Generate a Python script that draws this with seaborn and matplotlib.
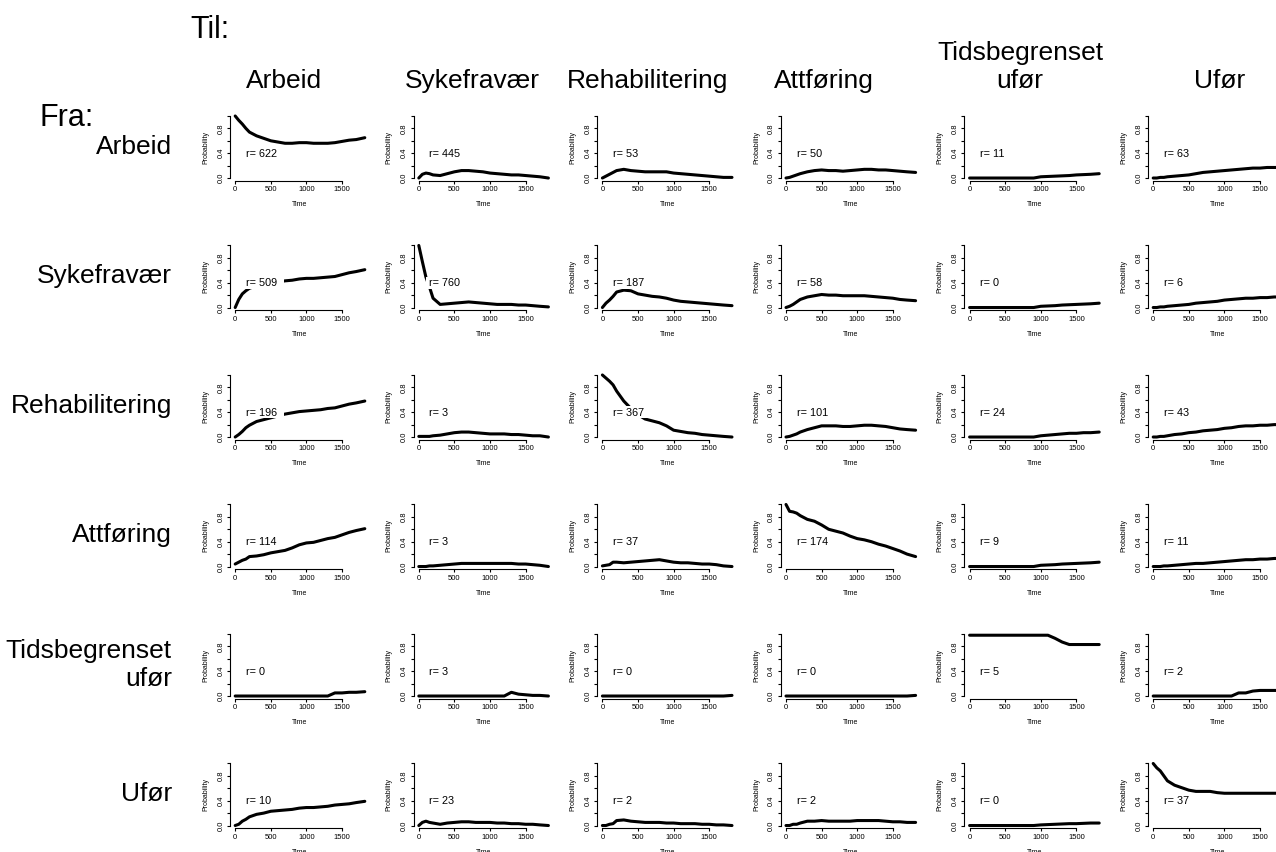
import matplotlib
matplotlib.use("Agg")
import matplotlib.pyplot as plt
import pandas as pd
import seaborn as sns
from matplotlib.patches import Rectangle

# ---------------- data ----------------
STATES = ["Arbeid", "Sykefravær", "Rehabilitering", "Attføring",
          "Tidsbegrenset\nufør", "Ufør"]
TIME = [0, 50, 100, 150, 200, 300, 400, 500, 600, 700, 800, 900, 1000,
        1100, 1200, 1300, 1400, 1500, 1600, 1700, 1820]

R_ARBEID = [622, 445, 53, 50, 11, 63]
R_SYKEFRAVAER = [509, 760, 187, 58, 0, 6]
R_REHAB = [196, 3, 367, 101, 24, 43]
R_ATTFORING = [114, 3, 37, 174, 9, 11]
R_TIDSUFOR = [0, 3, 0, 0, 5, 2]
R_UFOR = [10, 23, 2, 2, 0, 37]

P_ARBEID = [
    [1.0, 0.93, 0.87, 0.80, 0.74, 0.68, 0.64, 0.60, 0.58, 0.56, 0.56, 0.57, 0.57, 0.56, 0.56, 0.56, 0.57, 0.59, 0.61, 0.62, 0.65],
    [0.0, 0.06, 0.08, 0.07, 0.05, 0.04, 0.07, 0.10, 0.12, 0.12, 0.11, 0.10, 0.08, 0.07, 0.06, 0.05, 0.05, 0.04, 0.03, 0.02, 0.0],
    [0.0, 0.03, 0.06, 0.09, 0.12, 0.14, 0.12, 0.11, 0.10, 0.10, 0.10, 0.10, 0.08, 0.07, 0.06, 0.05, 0.04, 0.03, 0.02, 0.01, 0.01],
    [0.0, 0.01, 0.03, 0.05, 0.07, 0.10, 0.12, 0.13, 0.12, 0.12, 0.11, 0.12, 0.13, 0.14, 0.14, 0.13, 0.13, 0.12, 0.11, 0.10, 0.09],
    [0.0, 0.0, 0.0, 0.0, 0.0, 0.0, 0.0, 0.0, 0.0, 0.0, 0.0, 0.0, 0.02, 0.025, 0.03, 0.035, 0.04, 0.05, 0.055, 0.06, 0.07],
    [0.0, 0.0, 0.01, 0.01, 0.02, 0.03, 0.04, 0.05, 0.07, 0.09, 0.10, 0.11, 0.12, 0.13, 0.14, 0.15, 0.16, 0.16, 0.17, 0.17, 0.17],
]
P_SYKEFRAVAER = [
    [0.0, 0.13, 0.22, 0.27, 0.31, 0.35, 0.37, 0.39, 0.41, 0.43, 0.44, 0.46, 0.47, 0.47, 0.48, 0.49, 0.50, 0.53, 0.56, 0.58, 0.61],
    [1.0, 0.74, 0.49, 0.33, 0.15, 0.05, 0.06, 0.07, 0.08, 0.09, 0.08, 0.07, 0.06, 0.05, 0.05, 0.05, 0.04, 0.04, 0.03, 0.02, 0.01],
    [0.0, 0.07, 0.12, 0.18, 0.25, 0.28, 0.27, 0.22, 0.20, 0.18, 0.17, 0.15, 0.12, 0.10, 0.09, 0.08, 0.07, 0.06, 0.05, 0.04, 0.03],
    [0.0, 0.02, 0.05, 0.09, 0.13, 0.17, 0.19, 0.21, 0.20, 0.20, 0.19, 0.19, 0.19, 0.19, 0.18, 0.17, 0.16, 0.15, 0.13, 0.12, 0.11],
    [0.0, 0.0, 0.0, 0.0, 0.0, 0.0, 0.0, 0.0, 0.0, 0.0, 0.0, 0.0, 0.02, 0.025, 0.03, 0.04, 0.045, 0.05, 0.055, 0.06, 0.07],
    [0.0, 0.0, 0.01, 0.01, 0.02, 0.03, 0.04, 0.05, 0.07, 0.08, 0.09, 0.10, 0.12, 0.13, 0.14, 0.15, 0.15, 0.16, 0.16, 0.17, 0.17],
]
P_REHAB = [
    [0.0, 0.04, 0.09, 0.15, 0.19, 0.25, 0.28, 0.31, 0.34, 0.37, 0.39, 0.41, 0.42, 0.43, 0.44, 0.46, 0.47, 0.50, 0.53, 0.55, 0.58],
    [0.01, 0.01, 0.01, 0.01, 0.02, 0.03, 0.05, 0.07, 0.08, 0.08, 0.07, 0.06, 0.05, 0.05, 0.05, 0.04, 0.04, 0.03, 0.02, 0.02, 0.0],
    [1.0, 0.95, 0.90, 0.84, 0.74, 0.58, 0.46, 0.36, 0.29, 0.26, 0.23, 0.18, 0.11, 0.09, 0.07, 0.06, 0.04, 0.03, 0.02, 0.01, 0.0],
    [0.0, 0.01, 0.03, 0.05, 0.08, 0.12, 0.15, 0.18, 0.18, 0.18, 0.17, 0.17, 0.18, 0.19, 0.19, 0.18, 0.17, 0.15, 0.13, 0.12, 0.11],
    [0.0, 0.0, 0.0, 0.0, 0.0, 0.0, 0.0, 0.0, 0.0, 0.0, 0.0, 0.0, 0.02, 0.03, 0.04, 0.05, 0.06, 0.06, 0.07, 0.07, 0.08],
    [0.0, 0.0, 0.01, 0.01, 0.02, 0.04, 0.05, 0.07, 0.08, 0.10, 0.11, 0.12, 0.14, 0.15, 0.17, 0.18, 0.18, 0.19, 0.19, 0.20, 0.20],
]
P_ATTFORING = [
    [0.04, 0.07, 0.10, 0.12, 0.16, 0.17, 0.19, 0.22, 0.24, 0.26, 0.30, 0.35, 0.38, 0.39, 0.42, 0.45, 0.47, 0.51, 0.55, 0.58, 0.61],
    [0.0, 0.0, 0.0, 0.01, 0.01, 0.02, 0.03, 0.04, 0.05, 0.05, 0.05, 0.05, 0.05, 0.05, 0.05, 0.05, 0.04, 0.04, 0.03, 0.02, 0.0],
    [0.01, 0.02, 0.03, 0.07, 0.07, 0.06, 0.07, 0.08, 0.09, 0.10, 0.11, 0.09, 0.07, 0.06, 0.06, 0.05, 0.04, 0.04, 0.03, 0.01, 0.0],
    [1.0, 0.89, 0.88, 0.86, 0.82, 0.76, 0.73, 0.67, 0.60, 0.57, 0.54, 0.49, 0.45, 0.43, 0.40, 0.36, 0.33, 0.29, 0.25, 0.20, 0.16],
    [0.0, 0.0, 0.0, 0.0, 0.0, 0.0, 0.0, 0.0, 0.0, 0.0, 0.0, 0.0, 0.02, 0.025, 0.03, 0.04, 0.045, 0.05, 0.055, 0.06, 0.07],
    [0.0, 0.0, 0.0, 0.01, 0.01, 0.02, 0.03, 0.04, 0.05, 0.05, 0.06, 0.07, 0.08, 0.09, 0.10, 0.11, 0.11, 0.12, 0.12, 0.13, 0.13],
]
P_TIDSUFOR = [
    [0.0, 0.0, 0.0, 0.0, 0.0, 0.0, 0.0, 0.0, 0.0, 0.0, 0.0, 0.0, 0.0, 0.0, 0.0, 0.0, 0.05, 0.05, 0.06, 0.06, 0.07],
    [0.0, 0.0, 0.0, 0.0, 0.0, 0.0, 0.0, 0.0, 0.0, 0.0, 0.0, 0.0, 0.0, 0.0, 0.0, 0.06, 0.03, 0.02, 0.01, 0.01, 0.0],
    [0.0, 0.0, 0.0, 0.0, 0.0, 0.0, 0.0, 0.0, 0.0, 0.0, 0.0, 0.0, 0.0, 0.0, 0.0, 0.0, 0.0, 0.0, 0.0, 0.0, 0.01],
    [0.0, 0.0, 0.0, 0.0, 0.0, 0.0, 0.0, 0.0, 0.0, 0.0, 0.0, 0.0, 0.0, 0.0, 0.0, 0.0, 0.0, 0.0, 0.0, 0.0, 0.01],
    [0.98, 0.98, 0.98, 0.98, 0.98, 0.98, 0.98, 0.98, 0.98, 0.98, 0.98, 0.98, 0.98, 0.98, 0.93, 0.87, 0.83, 0.83, 0.83, 0.83, 0.83],
    [0.0, 0.0, 0.0, 0.0, 0.0, 0.0, 0.0, 0.0, 0.0, 0.0, 0.0, 0.0, 0.0, 0.0, 0.05, 0.05, 0.08, 0.09, 0.09, 0.09, 0.09],
]
P_UFOR = [
    [0.0, 0.02, 0.07, 0.10, 0.14, 0.18, 0.20, 0.23, 0.24, 0.25, 0.26, 0.28, 0.29, 0.29, 0.30, 0.31, 0.33, 0.34, 0.35, 0.37, 0.39],
    [0.0, 0.05, 0.07, 0.05, 0.04, 0.02, 0.04, 0.05, 0.06, 0.06, 0.05, 0.05, 0.05, 0.04, 0.04, 0.03, 0.03, 0.02, 0.02, 0.01, 0.0],
    [0.0, 0.0, 0.02, 0.03, 0.08, 0.09, 0.07, 0.06, 0.05, 0.05, 0.05, 0.04, 0.04, 0.03, 0.03, 0.03, 0.02, 0.02, 0.01, 0.01, 0.0],
    [0.0, 0.0, 0.02, 0.02, 0.04, 0.07, 0.07, 0.08, 0.07, 0.07, 0.07, 0.07, 0.08, 0.08, 0.08, 0.08, 0.07, 0.06, 0.06, 0.05, 0.05],
    [0.0, 0.0, 0.0, 0.0, 0.0, 0.0, 0.0, 0.0, 0.0, 0.0, 0.0, 0.0, 0.01, 0.015, 0.02, 0.025, 0.03, 0.03, 0.035, 0.04, 0.04],
    [1.0, 0.93, 0.88, 0.80, 0.72, 0.65, 0.61, 0.57, 0.55, 0.55, 0.55, 0.53, 0.52, 0.52, 0.52, 0.52, 0.52, 0.52, 0.52, 0.52, 0.52],
]

PROBS = [P_ARBEID, P_SYKEFRAVAER, P_REHAB, P_ATTFORING, P_TIDSUFOR, P_UFOR]
RVALS = [R_ARBEID, R_SYKEFRAVAER, R_REHAB, R_ATTFORING, R_TIDSUFOR, R_UFOR]

X_TICKS = [0, 500, 1000, 1500]
Y_TICKS = [0.0, 0.2, 0.4, 0.6, 0.8, 1.0]
Y_TICKLABELS = ["0.0", "", "0.4", "", "0.8", ""]

# ---------------- style ----------------
sns.set_theme(style="white", rc={
    "axes.edgecolor": "black",
    "axes.linewidth": 0.8,
    "axes.labelcolor": "black",
    "text.color": "black",
    "xtick.color": "black",
    "ytick.color": "black",
    "xtick.bottom": True,
    "ytick.left": True,
})
plt.rcParams["font.family"] = ["Liberation Sans", "DejaVu Sans"]

W, H = 1276, 852
fig = plt.figure(figsize=(W / 100, H / 100), dpi=100)
fig.patch.set_facecolor("white")

X0, DX, AXW = 230, 183.6, 140
Y0, DY, AXH = 113.5, 129.5, 67

for i in range(6):
    for j in range(6):
        left = (X0 + DX * j) / W
        bottom = 1 - (Y0 + DY * i + AXH) / H
        ax = fig.add_axes([left, bottom, AXW / W, AXH / H])
        df = pd.DataFrame({"Time": TIME, "Probability": PROBS[i][j]})
        sns.lineplot(data=df, x="Time", y="Probability", ax=ax,
                     color="black", linewidth=2.2, zorder=2)
        ax.set_xlim(-73, 1893)
        ax.set_ylim(-0.04, 1.04)
        for s in ["top", "right"]:
            ax.spines[s].set_visible(False)
        ax.spines["left"].set_bounds(0, 1)
        ax.spines["bottom"].set_bounds(0, 1500)
        ax.set_xticks(X_TICKS)
        ax.set_xticklabels([str(t) for t in X_TICKS])
        ax.set_yticks(Y_TICKS)
        ax.set_yticklabels(Y_TICKLABELS, rotation=90, va="center")
        ax.tick_params(axis="both", length=2.5, width=0.8, labelsize=5.5,
                       pad=1.5, colors="black")
        ax.set_xlabel("Time", fontsize=5, labelpad=6)
        ax.set_ylabel("Probability", fontsize=5, labelpad=6)
        ax.patch.set_alpha(0)
        ax.add_patch(Rectangle((100, 0.30), 580, 0.20, facecolor="white",
                               edgecolor="none", zorder=3))
        ax.text(150, 0.39, f"r= {RVALS[i][j]}", fontsize=7.8,
                ha="left", va="center", zorder=4)

# headers
fig.text(190 / W, 1 - 30 / H, "Til:", fontsize=22, ha="left", va="center")
fig.text(40 / W, 1 - 118 / H, "Fra:", fontsize=22, ha="left", va="center")

HEADER_X = [284, 472, 648, 824, 1020, 1220]
for name, hx in zip(STATES, HEADER_X):
    fig.text(hx / W, 1 - 93 / H, name, fontsize=19, ha="center",
             va="bottom", multialignment="center")

for i, name in enumerate(STATES):
    cy = Y0 + 0.04 * 62 + 0.5 * 62 + DY * i
    fig.text(172 / W, 1 - cy / H, name, fontsize=19, ha="right",
             va="center", multialignment="right")

fig.savefig("out.png", dpi=100, facecolor="white")
